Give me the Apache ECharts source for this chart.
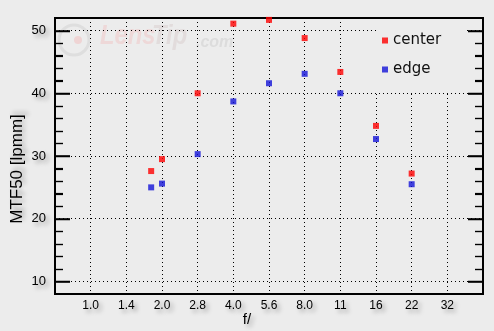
<!DOCTYPE html>
<html><head><meta charset="utf-8">
<script src="https://cdn.jsdelivr.net/npm/echarts@6/dist/echarts.min.js"></script>
<style>html,body{margin:0;padding:0;background:#ececec}#c{width:494px;height:331px}</style>
</head><body><div id="c"></div>
<script>
const fLabels = ['1.0','1.4','2.0','2.8','4.0','5.6','8.0','11','16','22','32'];
const apertures = ['1.8','2.0','2.8','4.0','5.6','8.0','11','16','22'];
const centerVals = [27.6, 29.5, 40.0, 51.1, 51.7, 48.8, 43.4, 34.8, 27.2];
const edgeVals = [25.0, 25.6, 30.3, 38.7, 41.6, 43.1, 40.0, 32.7, 25.5];
const yTicks = [10, 20, 30, 40, 50];
const yMinorTicks = [12, 14, 16, 18, 22, 24, 26, 28, 32, 34, 36, 38, 42, 44, 46, 48];

// f-stop scale: position = stop index (+2 offset so the axis range never contains zero)
const OFFSET = 2;
const X_MIN = 1, X_MAX = 13, Y_MIN = 8, Y_MAX = 52;
function stopPos(a) {
  const i = fLabels.indexOf(a);
  return (i >= 0 ? i : 2 * Math.log2(parseFloat(a))) + OFFSET;
}
const centerData = apertures.map((a, i) => [stopPos(a), centerVals[i]]);
const edgeData = apertures.map((a, i) => [stopPos(a), edgeVals[i]]);

const shadow = {textShadowColor:'rgba(0,0,0,0.35)', textShadowBlur:4, textShadowOffsetX:3, textShadowOffsetY:3};
const dotted = () => ({color:'#000', width:1, type:[1,3]});
const frameLine = () => ({show:true, lineStyle:{color:'#000', width:2}});

function majorAxis(pos, showLabel) {
  const lab = Object.assign({show:showLabel, customValues:yTicks, margin:9, color:'#000', fontSize:13,
    fontFamily:'Liberation Sans, Arial, sans-serif'}, shadow);
  return {type:'value', min:Y_MIN, max:Y_MAX, position:pos, axisLine:frameLine(),
    axisTick:{show:true, inside:true, length:15, customValues:yTicks, lineStyle:{color:'#000', width:1.5}},
    axisLabel:lab, splitLine:{show:showLabel, lineStyle:dotted()}};
}
function minorAxis(pos) {
  return {type:'value', min:Y_MIN, max:Y_MAX, position:pos, axisLine:frameLine(),
    axisTick:{show:true, inside:true, length:8, customValues:yMinorTicks, lineStyle:{color:'#000', width:1.2}},
    axisLabel:{show:false}, splitLine:{show:false}};
}
const xLab = Object.assign({margin:6, color:'#000', fontSize:12, fontFamily:'Liberation Sans, Arial, sans-serif',
  formatter:v => fLabels[v - OFFSET] !== undefined ? fLabels[v - OFFSET] : ''}, shadow);

const baseGraphics = [
  {type:'rect', z:1, shape:{x:376, y:20, width:90, height:71}, style:{fill:'#ececec'}},
  {type:'circle', z:0, shape:{cx:74, cy:40, r:15}, style:{fill:'none', stroke:'#dedede', lineWidth:3}},
  {type:'circle', z:0, shape:{cx:78, cy:40, r:4}, style:{fill:'#efd4d4'}},
  {type:'text', z:0, x:100, y:50, scaleX:0.85, style:{text:'Lens', fill:'#eed8d8', font:'italic bold 28px Liberation Sans, Arial, sans-serif', verticalAlign:'bottom'}},
  {type:'text', z:0, x:152, y:50, scaleX:0.85, style:{text:'Tip', fill:'#e2dcdc', font:'italic bold 28px Liberation Sans, Arial, sans-serif', verticalAlign:'bottom'}},
  {type:'text', z:0, x:196, y:51, style:{text:'.com', fill:'#dcdcdc', font:'italic bold 16px Liberation Sans, Arial, sans-serif', verticalAlign:'bottom'}},
  {type:'text', z:5, x:17, y:169, rotation:Math.PI/2,
    style:{text:'MTF50 [lpmm]', fill:'#000', font:'17px Liberation Sans, Arial, sans-serif', align:'center', verticalAlign:'middle',
      textShadowColor:'rgba(0,0,0,0.3)', textShadowBlur:4, textShadowOffsetX:3, textShadowOffsetY:-3}},
  {type:'text', z:5, x:247, y:320,
    style:{text:'f/', fill:'#000', font:'15px Liberation Sans, Arial, sans-serif', align:'center', verticalAlign:'middle',
      textShadowColor:'rgba(0,0,0,0.3)', textShadowBlur:4, textShadowOffsetX:3, textShadowOffsetY:3}}
];

const chart = echarts.init(document.getElementById('c'));
chart.setOption({
  backgroundColor:'#ececec',
  animation:false,
  grid:{left:55, top:18, right:11, bottom:37, show:true, borderColor:'#000', borderWidth:2},
  xAxis:{type:'value', min:X_MIN, max:X_MAX, interval:1, axisLine:frameLine(), axisTick:{show:false},
    axisLabel:xLab, splitLine:{show:true, lineStyle:dotted()}},
  yAxis:[majorAxis('left', true), minorAxis('left'), majorAxis('right', false), minorAxis('right')],
  legend:{
    orient:'vertical', left:382, top:33, itemGap:14, itemWidth:6, itemHeight:6, padding:0,
    icon:'rect',
    textStyle:{fontSize:15, color:'#111', fontFamily:'DejaVu Sans, sans-serif'},
    data:['center','edge']
  },
  graphic:baseGraphics,
  series:[
    {name:'center', type:'scatter', symbol:'rect', symbolSize:6, itemStyle:{color:'#ff0000'}, data:centerData},
    {name:'edge', type:'scatter', symbol:'rect', symbolSize:6, itemStyle:{color:'#1414d8'}, data:edgeData}
  ]
});

// Tick marks on both frame edges, positioned through the chart's own y scale
const xL = chart.convertToPixel({xAxisIndex:0}, X_MIN);
const xR = chart.convertToPixel({xAxisIndex:0}, X_MAX);
function tickLines(values, len, width) {
  const out = [];
  values.forEach(v => {
    const y = Math.round(chart.convertToPixel({yAxisIndex:0}, v)) + 0.5;
    out.push({type:'line', z:3, shape:{x1:xL, y1:y, x2:xL + len, y2:y}, style:{stroke:'#000', lineWidth:width}});
    out.push({type:'line', z:3, shape:{x1:xR - len, y1:y, x2:xR, y2:y}, style:{stroke:'#000', lineWidth:width}});
  });
  return out;
}
chart.setOption({graphic: baseGraphics.concat(tickLines(yTicks, 15, 1.5), tickLines(yMinorTicks, 8, 1.2))});
</script></body></html>
